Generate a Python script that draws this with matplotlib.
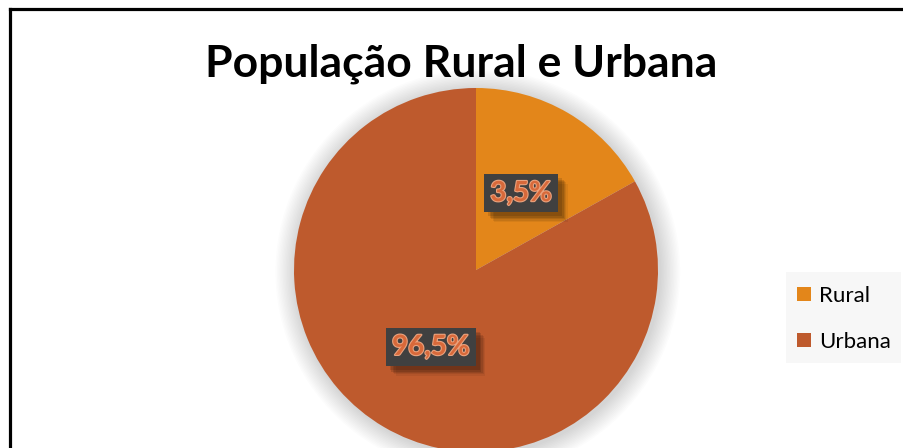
import matplotlib
matplotlib.use("Agg")
import matplotlib.pyplot as plt
import matplotlib.patheffects as pe
from matplotlib.patches import Circle, Rectangle
from matplotlib.lines import Line2D

# ---- data ----
categories = ["Rural", "Urbana"]
slice_values = [16.9, 83.1]          # wedge sizes as drawn in the picture
value_labels = ["3,5%", "96,5%"]     # label text as printed
title = "População Rural e Urbana"
colors = ["#E3861A", "#BE5A2D"]

plt.rcParams['font.family'] = ['Lato', 'DejaVu Sans']
plt.rcParams['hatch.color'] = '#4d4d4d'
plt.rcParams['hatch.linewidth'] = 1.2

W, H = 904, 448
fig = plt.figure(figsize=(W / 100, H / 100), dpi=100)
fig.patch.set_facecolor('white')

# pie axes: center (476,270) px from top-left, radius 182
cx, cy, r = 476, 270, 182
ax = fig.add_axes([(cx - r) / W, (H - cy - r) / H, 2 * r / W, 2 * r / H])
ax.set_xlim(-1, 1)
ax.set_ylim(-1, 1)
ax.set_aspect('equal')
ax.axis('off')

# soft shadow
for i in range(14):
    rad = 1.0 + 0.008 * (14 - i)
    ax.add_patch(Circle((0.01, -0.01), rad, color='black', alpha=0.012, lw=0, zorder=0,
                        clip_on=False))

wedges, texts = ax.pie(slice_values, colors=colors, startangle=90, counterclock=False,
                       labels=value_labels, labeldistance=0.49,
                       wedgeprops=dict(linewidth=0), radius=1, frame=False)
for w in wedges:
    w.set_clip_on(False)
    w.set_zorder(2)
ax.set_xlim(-1, 1)
ax.set_ylim(-1, 1)

shadow_fx = [pe.SimplePatchShadow(offset=(dx, -dx), alpha=a, shadow_rgbFace='black')
             for dx, a in [(7, 0.06), (6, 0.08), (5, 0.10), (4, 0.12), (3, 0.12)]]
for t in texts:
    t.set_fontsize(20)
    t.set_fontweight('bold')
    t.set_color('#D8693A')
    t.set_ha('center')
    t.set_va('center')
    t.set_zorder(5)
    t.set_path_effects([pe.withStroke(linewidth=1.6, foreground='#E9A27E')])
    t.set_bbox(dict(boxstyle='square,pad=0.22', facecolor='#404040', edgecolor='none',
                    hatch='.'))
    t.get_bbox_patch().set_path_effects(shadow_fx + [pe.Normal()])

# title
fig.text(461.5 / W, (H - 76) / H, title, ha='center', va='baseline',
         fontsize=32, fontweight='bold', color='black')

# frame lines (left and top)
fig.add_artist(Line2D([9.5 / W, 9.5 / W], [0, (H - 9.5) / H], transform=fig.transFigure,
                      color='black', lw=2.3, solid_capstyle='projecting'))
fig.add_artist(Line2D([9.5 / W, 1], [(H - 9.5) / H, (H - 9.5) / H], transform=fig.transFigure,
                      color='black', lw=2.3, solid_capstyle='projecting'))

# legend background
fig.add_artist(Rectangle((786 / W, (H - 363) / H), (901 - 786) / W, 91 / H,
                         transform=fig.transFigure, facecolor='#F7F7F7', edgecolor='none',
                         zorder=1))
leg = fig.legend(wedges, categories, loc='upper left',
                 bbox_to_anchor=(797 / W, (H - 286) / H), frameon=False,
                 fontsize=16, handlelength=0.63, handleheight=0.63, handletextpad=0.35,
                 labelspacing=1.17, borderaxespad=0, borderpad=0)
leg.set_zorder(3)

fig.savefig('out.png', dpi=100)
